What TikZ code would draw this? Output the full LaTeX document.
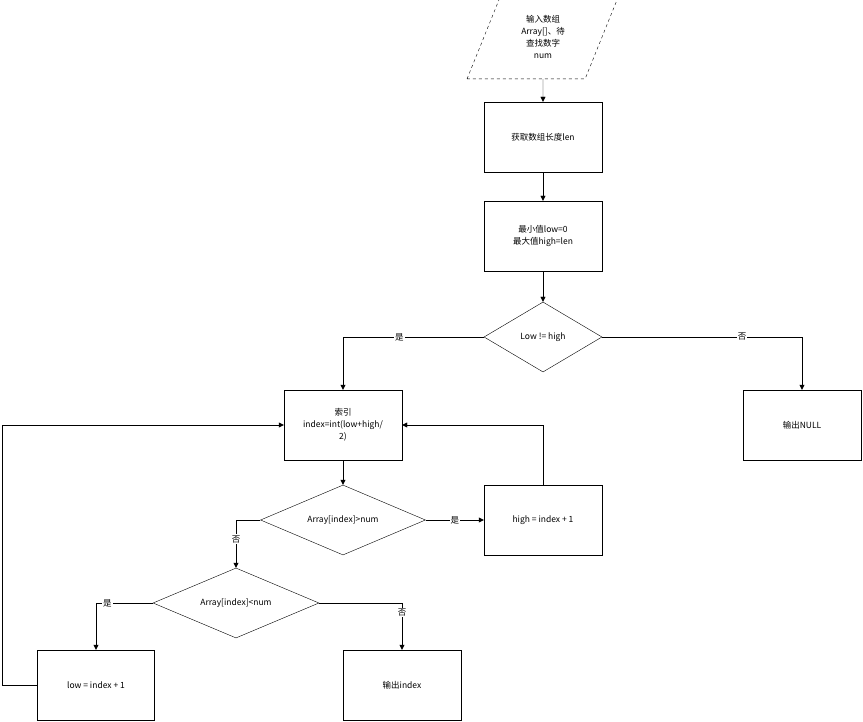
\documentclass[tikz,border=0pt]{standalone}
\usepackage{fontspec}
\setmainfont{Noto Sans CJK SC}
\usetikzlibrary{shapes.geometric,arrows.meta}
\begin{document}
\begin{tikzpicture}[x=1pt,y=-1pt,
  box/.style={draw,minimum width=118pt,minimum height=70pt,align=center,font=\fontsize{8.5}{12}\selectfont},
  dia/.style={draw,diamond,aspect=1,align=center,font=\fontsize{8.5}{12}\selectfont,inner sep=0pt},
  lab/.style={fill=white,font=\fontsize{8.5}{10}\selectfont,inner sep=1pt},
  arr/.style={-{Triangle[length=5pt,width=5pt]}}]
\useasboundingbox (0,0) rectangle (863,722);
\node[draw,dashed,trapezium,trapezium left angle=68,trapezium right angle=112,minimum width=152pt,minimum height=71pt,inner sep=0pt,align=center,font=\fontsize{8.5}{12}\selectfont] (in) at (543,37) {输入数组\\Array[]、待\\查找数字\\num};
\node[box] (b1) at (543,137) {获取数组长度len};
\node[box] (b2) at (543,236) {最小值low=0\\最大值high=len};
\node[dia,minimum width=118pt,minimum height=70pt] (d1) at (543,337) {};
\node[font=\fontsize{8.5}{10}\selectfont] at (d1) {Low != high};
\node[box] (b3) at (343,425) {索引\\index=int(low+high/\\2)};
\node[box] (bn) at (802,425) {输出NULL};
\node[dia,minimum width=165pt,minimum height=70pt] (d2) at (343,520) {};
\node[font=\fontsize{8.5}{10}\selectfont] at (d2) {Array[index]>num};
\node[box] (bh) at (543,520) {high = index + 1};
\node[dia,minimum width=166pt,minimum height=70pt] (d3) at (236,603) {};
\node[font=\fontsize{8.5}{10}\selectfont] at (d3) {Array[index]<num};
\node[box,minimum width=117pt] (bl) at (96,685) {low = index + 1};
\node[box] (bi) at (402,685) {输出index};
\coordinate (c1) at (2,685);
\draw[arr] (in) -- (b1);
\draw[arr] (b1) -- (b2);
\draw[arr] (b2) -- (d1);
\draw[arr] (d1.west) -| node[lab,pos=0.3]{是} (b3.north);
\draw[arr] (d1.east) -| node[lab,pos=0.35]{否} (bn.north);
\draw[arr] (b3) -- (d2);
\draw[arr] (d2.east) -- node[lab,pos=0.5]{是} (bh.west);
\draw[arr] (bh.north) |- (b3.east);
\draw[arr] (d2.west) -| node[lab,pos=0.7]{否} (d3.north);
\draw[arr] (d3.west) -| node[lab,pos=0.4]{是} (bl.north);
\draw[arr] (d3.east) -| node[lab,pos=0.6]{否} (bi.north);
\draw[arr] (bl.west) -- (c1) |- (b3.west);
\end{tikzpicture}
\end{document}
